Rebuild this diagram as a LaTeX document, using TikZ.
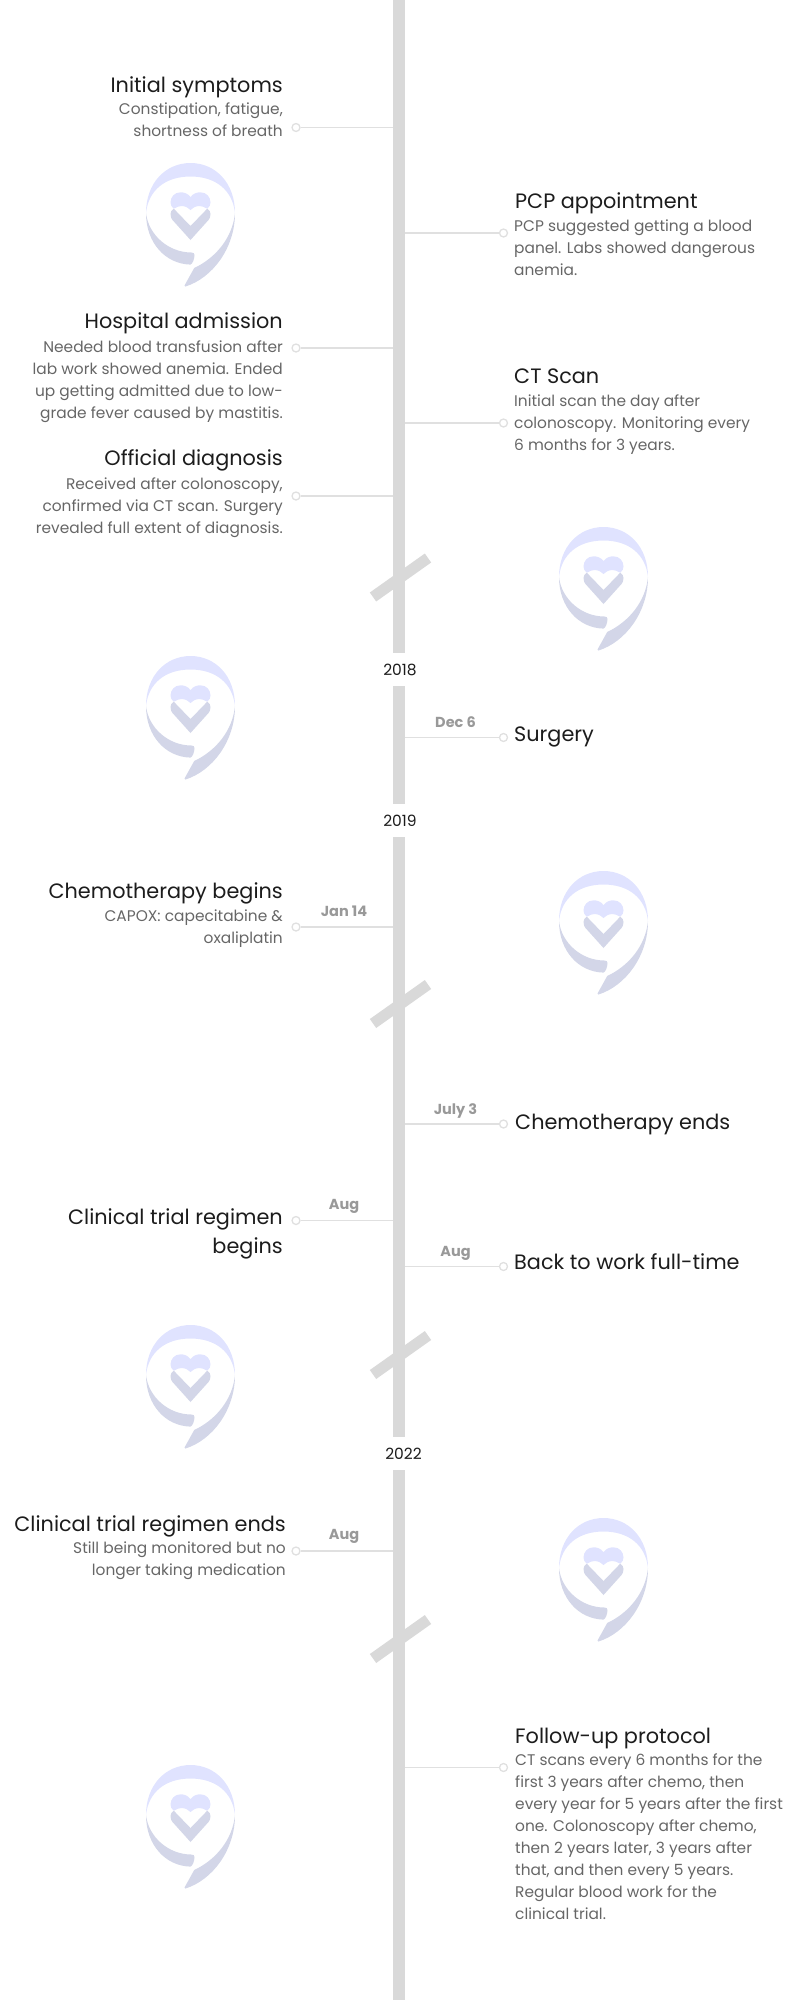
\documentclass[tikz,border=0pt]{standalone}
\usepackage{fontspec}
\usepackage{xcolor}
\usetikzlibrary{positioning}
\setmainfont{Poppins}

\definecolor{ringlight}{HTML}{E0E3FF}
\definecolor{ringdark}{HTML}{D3D6E8}
\definecolor{spinegray}{HTML}{D9D9D9}
\definecolor{leadergray}{HTML}{E0E0E0}
\definecolor{titleink}{HTML}{1C1C1C}
\definecolor{descink}{HTML}{666666}
\definecolor{dateink}{HTML}{999999}

\tikzset{
    spine/.style={draw=spinegray, line width=12pt},
    breakmark/.style={draw=spinegray, line width=11pt},
    leader/.style={draw=leadergray, line width=1.6pt},
    dotmark/.style={circle, draw=leadergray, line width=1.3pt, fill=white, minimum size=8pt, inner sep=0pt},
    yearlabel/.style={inner sep=0pt, minimum height=33pt, text=titleink, font=\fontsize{15.5}{18}\selectfont},
    datelabel/.style={inner sep=0pt, text=dateink, font=\fontsize{14.5}{18}\selectfont\bfseries},
    titleL/.style={anchor=east, align=right, inner sep=0pt, text height=21pt, text depth=5pt, text=titleink, font=\fontsize{20.8}{29}\selectfont},
    titleR/.style={anchor=west, align=left, inner sep=0pt, text height=21pt, text depth=5pt, text=titleink, font=\fontsize{20.8}{29}\selectfont},
    descL/.style={align=right, inner sep=0pt, text=descink, font=\fontsize{15.4}{22}\selectfont},
    descR/.style={align=left, inner sep=0pt, text=descink, font=\fontsize{15.4}{22}\selectfont},
    logo/.pic={
        \fill[ringlight] (-44.5,50) .. controls (-44.5,20) and (-25,0) .. (0,0) .. controls (25,0) and (44.5,20) .. (44.5,50)
            .. controls (42,27) and (25,13.5) .. (0,13.5) .. controls (-25,13.5) and (-42,27) .. cycle;
        \fill[ringdark] (-44.5,50) .. controls (-44.5,80) and (-25,101) .. (0,101.6) .. controls (2,101) and (4,96) .. (4,92)
            .. controls (4,90.5) and (3,89.5) .. (1,89.5) .. controls (-22,89.5) and (-42,72) .. cycle;
        \fill[ringdark] (44.5,50) .. controls (44.5,85) and (22,115) .. (-5,123.5) -- (-6,122.5) -- (3.7,105)
            .. controls (25,95) and (42,75) .. cycle;
        \fill[ringlight] (0,34) .. controls (-3,30) and (-7,29.3) .. (-10,29.3) .. controls (-16,29.3) and (-20,34) .. (-20,39.5)
            .. controls (-20,42) and (-19,44) .. (-16.7,45.7) .. controls (-14,44) and (-11,43) .. (-9,43) .. controls (-5,43) and (-2,45) .. (0,47)
            .. controls (2,45) and (5,43) .. (9,43) .. controls (11,43) and (14,44) .. (16.7,45.7)
            .. controls (19,44) and (20,42) .. (20,39.5) .. controls (20,34) and (16,29.3) .. (10,29.3) .. controls (7,29.3) and (3,30) .. cycle;
        \fill[ringdark] (-16.7,45.7) -- (0,63) -- (16.7,45.7) .. controls (19,47) and (20,49) .. (20,51) .. controls (20,54) and (19,56) .. (18,57)
            -- (0,77) -- (-18,57) .. controls (-19,56) and (-20,54) .. (-20,51) .. controls (-20,49) and (-19,47) .. cycle;
    }
}

\begin{document}
\begin{tikzpicture}[x=1pt, y=-1pt]
    \useasboundingbox (0,0) rectangle (800,2000);

    % watermarks
    \foreach \lx/\ly in {190.5/163, 603.5/527, 190.5/656, 603.5/871, 190.5/1325, 603.5/1518, 190.5/1765}
        \pic at (\lx,\ly) {logo};

    % spine pieces and years
    \coordinate (sptop) at (399,0);
    \coordinate (spend) at (399,2000);
    \node[yearlabel] (y2018) at (400,669.5) {2018};
    \node[yearlabel] (y2019) at (400,820.5) {2019};
    \node[yearlabel] (y2022) at (403.5,1453.5) {2022};

    % dots on the ends of the leaders
    \node[dotmark] (d1) at (296,127.5) {};
    \node[dotmark] (d2) at (503.5,233) {};
    \node[dotmark] (d3) at (296,348) {};
    \node[dotmark] (d4) at (503.5,423) {};
    \node[dotmark] (d5) at (296,496) {};
    \node[dotmark] (d6) at (503.5,737.5) {};
    \node[dotmark] (d7) at (296,927) {};
    \node[dotmark] (d8) at (503.5,1124) {};
    \node[dotmark] (d9) at (296,1220.5) {};
    \node[dotmark] (d10) at (503.5,1266.5) {};
    \node[dotmark] (d11) at (296,1551) {};
    \node[dotmark] (d12) at (503.5,1767.5) {};
    \foreach \n in {1,...,12}
        \draw[leader] (d\n) -- (d\n -| sptop);

    \draw[spine] (sptop) -- (sptop |- y2018.north);
    \draw[spine] (sptop |- y2018.south) -- (sptop |- y2019.north);
    \draw[spine] (sptop |- y2019.south) -- (sptop |- y2022.north);
    \draw[spine] (sptop |- y2022.south) -- (spend);
    \foreach \by in {577.5, 1004, 1355, 1639}
        \draw[breakmark] (373,\by+19.5) -- (428,\by-19.5);

    % dates
    \node[datelabel] (dec6) at (455.5,722.5) {Dec 6};
    \node[datelabel] (jan14) at (344,911) {Jan 14};
    \node[datelabel] (july3) at (455.5,1110.5) {July 3};
    \node[datelabel] (augA) at (344,1206.5) {Aug};
    \node[datelabel] (augB) at (455.5,1253) {Aug};
    \node[datelabel] (augC) at (344,1536.5) {Aug};

    % left events
    \node[titleL] (symptoms) at (283,84) {Initial symptoms};
    \node[descL, below left=5.5pt and 0pt of symptoms.south east] (symptomsD) {Constipation, fatigue,\\shortness of breath};
    \node[titleL] (hospital) at (283,320) {Hospital admission};
    \node[descL, below left=7pt and 0pt of hospital.south east] (hospitalD) {Needed blood transfusion after\\lab work showed anemia. Ended\\up getting admitted due to low-\\grade fever caused by mastitis.};
    \node[titleL] (official) at (283,457) {Official diagnosis};
    \node[descL, below left=7pt and 0pt of official.south east] (officialD) {Received after colonoscopy,\\confirmed via CT scan. Surgery\\revealed full extent of diagnosis.};
    \node[titleL] (chemoA) at (283,890) {Chemotherapy begins};
    \node[descL, below left=6.5pt and 0pt of chemoA.south east] (chemoAD) {CAPOX: capecitabine \&\\oxaliplatin};
    \node[titleL] (trialA) at (283,1245) {Clinical trial regimen\\begins};
    \node[titleL] (trialB) at (286,1523) {Clinical trial regimen ends};
    \node[descL, below left=5.5pt and 0pt of trialB.south east] (trialBD) {Still being monitored but no\\longer taking medication};

    % right events
    \node[titleR] (pcp) at (515,200) {PCP appointment};
    \node[descR, below right=6pt and -1pt of pcp.south west] (pcpD) {PCP suggested getting a blood\\panel. Labs showed dangerous\\anemia.};
    \node[titleR] (ctscan) at (514,375) {CT Scan};
    \node[descR, below right=6.5pt and 0pt of ctscan.south west] (ctscanD) {Initial scan the day after\\colonoscopy. Monitoring every\\6 months for 3 years.};
    \node[titleR] (surgery) at (514,733.5) {Surgery};
    \node[titleR] (chemoB) at (515,1121) {Chemotherapy ends};
    \node[titleR] (backwork) at (514,1261.5) {Back to work full-time};
    \node[titleR] (followup) at (515,1735) {Follow-up protocol};
    \node[descR, below right=5.5pt and 0pt of followup.south west] (followupD) {CT scans every 6 months for the\\first 3 years after chemo, then\\every year for 5 years after the first\\one. Colonoscopy after chemo,\\then 2 years later, 3 years after\\that, and then every 5 years.\\Regular blood work for the\\clinical trial.};
\end{tikzpicture}
\end{document}
